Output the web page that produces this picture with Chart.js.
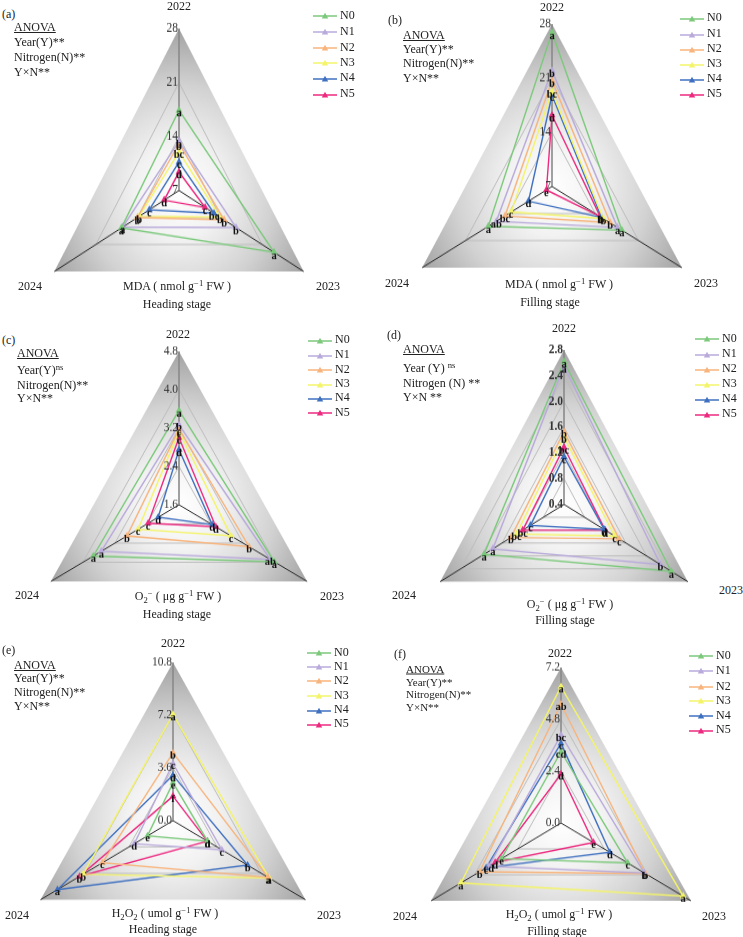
<!DOCTYPE html>
<html>
<head>
<meta charset="utf-8">
<script src="https://cdn.jsdelivr.net/npm/chart.js@4.4.1/dist/chart.umd.min.js"></script>
<style>
  body { margin: 0; width: 743px; height: 937px; overflow: hidden; background: #fff; position: relative;
         font-family: "Liberation Serif", "Times New Roman", serif; color: #222; }
  .cv { position: absolute; transform-origin: 0 0; z-index: 1; }
  .cv canvas { display: block; }
  .t { position: absolute; white-space: nowrap; z-index: 2; font-size: 12px; line-height: 1; transform: translate(-50%, -50%); }
  .l { transform: translate(0, -50%); }
  .s11 { font-size: 11px; }
  sup { font-size: 0.72em; vertical-align: 0; position: relative; top: -0.45em; }
  sub { font-size: 0.72em; vertical-align: 0; position: relative; top: 0.3em; }
</style>
</head>
<body>

<!-- (a) -->
<div class="t l" style="left:2px;top:14px">(a)</div>
<div class="t l" style="left:14px;top:27px"><u>ANOVA</u></div>
<div class="t l" style="left:14px;top:42px">Year(Y)**</div>
<div class="t l" style="left:14px;top:57px">Nitrogen(N)**</div>
<div class="t l" style="left:14px;top:72px">Y×N**</div>
<div class="t" style="left:179px;top:6px">2022</div>
<div class="t" style="left:30px;top:286px">2024</div>
<div class="t" style="left:328px;top:286px">2023</div>
<div class="t" style="left:177px;top:286px">MDA ( nmol g<sup>−1</sup> FW )</div>
<div class="t" style="left:177px;top:304px">Heading stage</div>

<!-- (b) -->
<div class="t l" style="left:388px;top:20px">(b)</div>
<div class="t l" style="left:403px;top:35px"><u>ANOVA</u></div>
<div class="t l" style="left:403px;top:49px">Year(Y)**</div>
<div class="t l" style="left:403px;top:63px">Nitrogen(N)**</div>
<div class="t l" style="left:403px;top:78px">Y×N**</div>
<div class="t" style="left:552px;top:7px">2022</div>
<div class="t" style="left:397px;top:283px">2024</div>
<div class="t" style="left:706px;top:283px">2023</div>
<div class="t" style="left:559px;top:284px">MDA ( nmol g<sup>−1</sup> FW )</div>
<div class="t" style="left:550px;top:302px">Filling stage</div>

<!-- (c) -->
<div class="t l" style="left:2px;top:340px">(c)</div>
<div class="t l" style="left:17px;top:353px"><u>ANOVA</u></div>
<div class="t l" style="left:17px;top:370px">Year(Y)<sup>ns</sup></div>
<div class="t l" style="left:17px;top:385px">Nitrogen(N)**</div>
<div class="t l" style="left:17px;top:398px">Y×N**</div>
<div class="t" style="left:178px;top:334px">2022</div>
<div class="t" style="left:27px;top:595px">2024</div>
<div class="t" style="left:332px;top:596px">2023</div>
<div class="t" style="left:178px;top:596px">O<sub>2</sub><sup>−</sup> ( μg g<sup>−1</sup> FW )</div>
<div class="t" style="left:177px;top:614px">Heading stage</div>

<!-- (d) -->
<div class="t l" style="left:387px;top:335px">(d)</div>
<div class="t l" style="left:403px;top:349px"><u>ANOVA</u></div>
<div class="t l" style="left:403px;top:368px">Year (Y) <sup>ns</sup></div>
<div class="t l" style="left:403px;top:383px">Nitrogen (N) **</div>
<div class="t l" style="left:403px;top:397px">Y×N **</div>
<div class="t" style="left:564px;top:328px">2022</div>
<div class="t" style="left:404px;top:595px">2024</div>
<div class="t" style="left:731px;top:590px">2023</div>
<div class="t" style="left:570px;top:604px">O<sub>2</sub><sup>−</sup> ( μg g<sup>−1</sup> FW )</div>
<div class="t" style="left:565px;top:620px">Filling stage</div>

<!-- (e) -->
<div class="t l" style="left:2px;top:650px">(e)</div>
<div class="t l" style="left:14px;top:665px"><u>ANOVA</u></div>
<div class="t l" style="left:14px;top:678px">Year(Y)**</div>
<div class="t l" style="left:14px;top:692px">Nitrogen(N)**</div>
<div class="t l" style="left:14px;top:706px">Y×N**</div>
<div class="t" style="left:173px;top:643px">2022</div>
<div class="t" style="left:17px;top:915px">2024</div>
<div class="t" style="left:329px;top:915px">2023</div>
<div class="t" style="left:165px;top:913px">H<sub>2</sub>O<sub>2</sub> ( umol g<sup>−1</sup> FW )</div>
<div class="t" style="left:163px;top:929px">Heading stage</div>

<!-- (f) -->
<div class="t l" style="left:394px;top:654px">(f)</div>
<div class="t l s11" style="left:406px;top:669px"><u>ANOVA</u></div>
<div class="t l s11" style="left:406px;top:682px">Year(Y)**</div>
<div class="t l s11" style="left:406px;top:694px">Nitrogen(N)**</div>
<div class="t l s11" style="left:406px;top:707px">Y×N**</div>
<div class="t" style="left:560px;top:653px">2022</div>
<div class="t" style="left:405px;top:916px">2024</div>
<div class="t" style="left:714px;top:916px">2023</div>
<div class="t" style="left:559px;top:914px">H<sub>2</sub>O<sub>2</sub> ( umol g<sup>−1</sup> FW )</div>
<div class="t" style="left:557px;top:931px">Filling stage</div>

<script>
const years = ['2022', '2023', '2024'];
const series = ['N0', 'N1', 'N2', 'N3', 'N4', 'N5'];
const colors = ['#7cc97c', '#b9aadb', '#f8b47c', '#f4f46a', '#3f70c0', '#ec2a80'];

// values per series (rows N0..N5), columns 2022, 2023, 2024
const mdaHeading = [
  [17.4, 23.0, 16.7],
  [13.4, 16.6, 16.5],
  [13.1, 14.6, 14.0],
  [12.0, 13.9, 13.7],
  [10.7, 12.9, 12.0],
  [9.4, 11.4, 9.5]
];
const mdaHeadingLetters = [
  ['a', 'a', 'a'], ['b', 'b', 'a'], ['b', 'b', 'b'],
  ['bc', 'b', 'b'], ['c', 'bc', 'c'], ['d', 'c', 'd']
];

const mdaFilling = [
  [26.9, 18.3, 17.3],
  [22.0, 17.6, 16.0],
  [20.7, 16.4, 14.6],
  [19.3, 15.3, 13.6],
  [18.8, 15.0, 10.8],
  [16.2, 14.8, 7.9]
];
const mdaFillingLetters = [
  ['a', 'a', 'a'], ['b', 'a', 'ab'], ['b', 'b', 'bc'],
  ['bc', 'b', 'c'], ['c', 'b', 'd'], ['d', 'b', 'e']
];

const o2Heading = [
  [3.57, 3.98, 3.74],
  [3.27, 3.88, 3.54],
  [3.18, 3.35, 2.90],
  [3.13, 2.90, 2.62],
  [2.75, 2.43, 2.12],
  [3.00, 2.52, 2.37]
];
const o2HeadingLetters = [
  ['a', 'a', 'a'], ['b', 'ab', 'a'], ['c', 'b', 'b'],
  ['c', 'c', 'c'], ['d', 'd', 'd'], ['c', 'd', 'c']
];

const o2Filling = [
  [2.62, 2.48, 1.95],
  [2.55, 2.27, 1.78],
  [1.53, 1.47, 1.43],
  [1.45, 1.38, 1.32],
  [1.14, 1.18, 1.05],
  [1.29, 1.20, 1.20]
];
const o2FillingLetters = [
  ['a', 'a', 'a'], ['a', 'b', 'a'], ['b', 'c', 'b'],
  ['b', 'c', 'bc'], ['c', 'd', 'c'], ['bc', 'd', 'bc']
];

const h2o2Heading = [
  [2.58, 2.83, 2.08],
  [3.90, 3.98, 3.16],
  [4.63, 7.75, 5.75],
  [7.25, 7.84, 7.32],
  [3.10, 6.08, 9.42],
  [1.67, 2.80, 7.62]
];
const h2o2HeadingLetters = [
  ['e', 'd', 'e'], ['c', 'c', 'd'], ['b', 'a', 'c'],
  ['a', 'a', 'b'], ['d', 'b', 'a'], ['f', 'd', 'b']
];

const h2o2Filling = [
  [3.30, 3.70, 3.30],
  [4.07, 4.62, 4.00],
  [5.51, 4.68, 4.51],
  [6.31, 6.77, 5.55],
  [3.69, 2.71, 4.15],
  [2.27, 1.80, 3.65]
];
const h2o2FillingLetters = [
  ['cd', 'c', 'e'], ['bc', 'b', 'cd'], ['ab', 'b', 'b'],
  ['a', 'a', 'a'], ['c', 'd', 'c'], ['d', 'e', 'd']
];

// tick labels on the 2022 axis
const mdaTicks = [7, 14, 21, 28];
const o2HeadingTicks = [1.6, 2.4, 3.2, 4.0, 4.8];
const o2FillingTicks = [0.4, 0.8, 1.2, 1.6, 2.0, 2.4, 2.8];
const h2o2HeadingTicks = [0, 3.6, 7.2, 10.8];
const h2o2FillingTicks = [0, 2.4, 4.8, 7.2];

const PAD = 12;

// layout: radar centre (page px), horizontal radius, vertical stretch, legend spot
const panels = [
  { cx: 179, cy: 190, R: 144, sy: 1.125, values: mdaHeading, letters: mdaHeadingLetters, ticks: mdaTicks, dec: 0,
    legX: 313, legY: [15, 31, 46.7, 62, 77.3, 93.3] },
  { cx: 552, cy: 186, R: 150, sy: 1.083, values: mdaFilling, letters: mdaFillingLetters, ticks: mdaTicks, dec: 0,
    legX: 680, legY: [17.3, 33.3, 48.3, 63.3, 78.3, 93.3] },
  { cx: 179, cy: 505, R: 148, sy: 1.036, values: o2Heading, letters: o2HeadingLetters, ticks: o2HeadingTicks, dec: 1,
    legX: 308, legY: [339.3, 354.3, 369, 383.3, 397.3, 411.7] },
  { cx: 564, cy: 504.5, R: 143, sy: 1.08, values: o2Filling, letters: o2FillingLetters, ticks: o2FillingTicks, dec: 1, bold: true,
    legX: 695, legY: [337.7, 353.3, 368.3, 383.3, 398.3, 413.3] },
  { cx: 173, cy: 820.5, R: 153, sy: 1.034, values: h2o2Heading, letters: h2o2HeadingLetters, ticks: h2o2HeadingTicks, dec: 1,
    legX: 307, legY: [651.7, 666, 680, 695, 709.3, 723.3] },
  { cx: 561, cy: 823, R: 150, sy: 1.037, values: h2o2Filling, letters: h2o2FillingLetters, ticks: h2o2FillingTicks, dec: 1,
    legX: 689, legY: [655, 670, 685.7, 700, 715, 729.3] }
];

function makeDecor(p) {
  return {
    id: 'decor',
    beforeDraw(chart) {
      const r = chart.scales.r, ctx = chart.ctx;
      const g = ctx.createRadialGradient(r.xCenter, r.yCenter, 0, r.xCenter, r.yCenter, r.drawingArea);
      g.addColorStop(0, '#ffffff');
      g.addColorStop(0.3, '#f2f2f2');
      g.addColorStop(0.65, '#d2d2d2');
      g.addColorStop(1, '#a3a3a3');
      ctx.save();
      ctx.beginPath();
      years.forEach((y, i) => {
        const pt = r.getPointPosition(i, r.drawingArea);
        if (i) ctx.lineTo(pt.x, pt.y); else ctx.moveTo(pt.x, pt.y);
      });
      ctx.closePath();
      ctx.fillStyle = g;
      ctx.fill();
      ctx.restore();
    },
    afterDatasetsDraw(chart) {
      const r = chart.scales.r, ctx = chart.ctx;
      ctx.save();
      // tick labels along the 2022 axis
      ctx.font = (p.bold ? 'bold ' : '') + '11.5px "Liberation Serif"';
      ctx.fillStyle = '#333';
      ctx.textAlign = 'right';
      ctx.textBaseline = 'middle';
      p.ticks.forEach(v => {
        ctx.fillText(v.toFixed(p.dec), r.xCenter - 1, r.yCenter - r.getDistanceFromCenterForValue(v));
      });
      // significance letters on every point
      ctx.font = 'bold 10.5px "Liberation Serif"';
      ctx.fillStyle = '#111';
      ctx.textAlign = 'center';
      chart.data.datasets.forEach((ds, d) => {
        chart.getDatasetMeta(d).data.forEach((pt, i) => {
          ctx.fillText(p.letters[d][i], pt.x, pt.y + 3);
        });
      });
      ctx.restore();
    }
  };
}

function addLegend(p) {
  series.forEach((s, k) => {
    const d = document.createElement('div');
    d.className = 't l';
    d.style.left = p.legX + 'px';
    d.style.top = p.legY[k] + 'px';
    d.innerHTML = '<svg width="24" height="8" style="vertical-align:middle;margin-right:3px">' +
      '<line x1="0" y1="4" x2="24" y2="4" stroke="' + colors[k] + '" stroke-width="1.5"/>' +
      '<polygon points="12,0.8 15.2,6.6 8.8,6.6" fill="' + colors[k] + '"/></svg>' + s;
    document.body.appendChild(d);
  });
}

panels.forEach(p => {
  const size = 2 * p.R + 2 * PAD;
  const half = PAD + p.R;
  const box = document.createElement('div');
  box.className = 'cv';
  box.style.left = (p.cx - half) + 'px';
  box.style.top = (p.cy - half * p.sy) + 'px';
  box.style.transform = 'scaleY(' + p.sy + ')';
  const canvas = document.createElement('canvas');
  canvas.width = size;
  canvas.height = size;
  box.appendChild(canvas);
  document.body.appendChild(box);

  const min = p.ticks[0], max = p.ticks[p.ticks.length - 1];
  new Chart(canvas, {
    type: 'radar',
    data: {
      labels: years,
      datasets: series.map((s, k) => ({
        label: s,
        data: p.values[k],
        borderColor: colors[k],
        backgroundColor: colors[k],
        pointBackgroundColor: colors[k],
        pointBorderColor: colors[k],
        pointStyle: 'triangle',
        pointRadius: 2.6,
        borderWidth: 1.4,
        fill: false
      }))
    },
    options: {
      responsive: false,
      animation: false,
      devicePixelRatio: 1,
      layout: { padding: PAD },
      plugins: { legend: { display: false }, tooltip: { enabled: false } },
      elements: { line: { tension: 0 } },
      scales: {
        r: {
          min: min,
          max: max,
          ticks: { display: false, stepSize: p.ticks[1] - p.ticks[0] },
          pointLabels: { display: false },
          grid: {
            color: c => (c.tick && Math.abs(c.tick.value - max) < 1e-6) ? 'rgba(0,0,0,0)' : '#bdbdbd',
            lineWidth: 1
          },
          angleLines: {
            color: c => c.index === 0 ? '#8a8a8a' : '#2a2a2a',
            lineWidth: c => c.index === 0 ? 1.6 : 1
          }
        }
      }
    },
    plugins: [makeDecor(p)]
  });
  addLegend(p);
});
</script>
</body>
</html>
